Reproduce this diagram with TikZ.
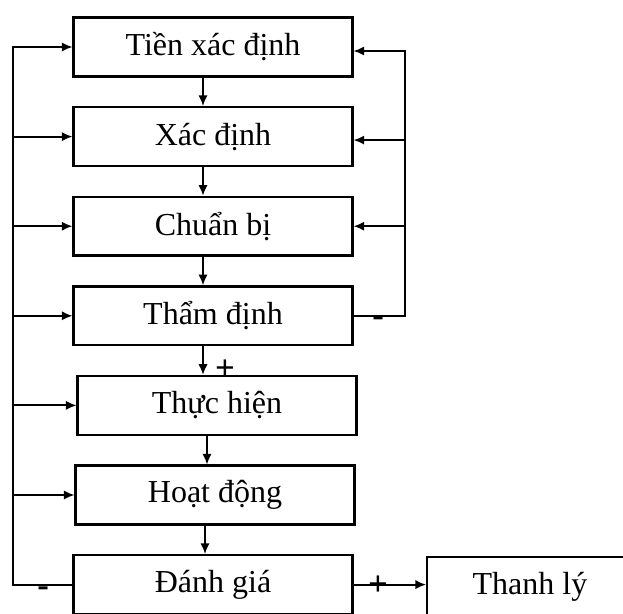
\documentclass[tikz,border=0pt]{standalone}
\usepackage{fontspec}
\setmainfont{Liberation Serif}
\usetikzlibrary{arrows.meta,positioning}
\tikzstyle{stage} = [draw,line width=1.8pt,rectangle,inner sep=0,minimum width=209pt,minimum height=44pt,font=\fontsize{24}{28}\selectfont]
\tikzstyle{link} = [line width=1.4pt]
\tikzstyle{flow} = [line width=1.4pt,-{Latex[length=8pt,width=7pt]}]
\tikzstyle{sign} = [inner sep=0,font=\fontsize{26}{26}\bfseries\selectfont]
\def \gap {21.4pt}
\def \off {-7.5pt}

\begin{document}
\begin{tikzpicture}[auto, node distance=\gap]
      \useasboundingbox (0,0) rectangle (467.25pt,-459.75pt);
      \node[stage] (tien) at (159.75pt,-35.25pt) {Tiền xác định};
      \node[stage,below=of tien] (xacdinh) {Xác định};
      \node[stage,below=of xacdinh] (chuanbi) {Chuẩn bị};
      \node[stage,below=of chuanbi] (thamdinh) {Thẩm định};
      \node[stage,below=of thamdinh,xshift=3pt] (thuchien) {Thực hiện};
      \node[stage,below=of thuchien,xshift=-1.5pt] (hoatdong) {Hoạt động};
      \node[stage,below=of hoatdong,xshift=-1.5pt] (danhgia) {Đánh giá};
      \node[stage,minimum width=154pt,right=54.4pt of danhgia,yshift=-1.5pt] (thanhly) {Thanh lý};
      \coordinate (lx) at (9.75pt,0);
      \coordinate (rx) at (303.75pt,0);
      \coordinate (tienin) at ([yshift=-3pt]tien.east);
      \coordinate (xacin) at ([yshift=-2.6pt]xacdinh.east);
      % main line, top to bottom
      \foreach \a in {tien,xacdinh,chuanbi,thamdinh,thuchien,hoatdong}
        \draw[flow] ([xshift=\off]\a.south) -- ++(0,-\gap);
      \draw[flow] (danhgia.east) -- (thanhly.west |- danhgia.east);
      % loop back on the left
      \draw[flow] (danhgia.west) -- (lx |- danhgia.west) -- (lx |- tien.west) -- (tien.west);
      \foreach \a in {xacdinh,chuanbi,thamdinh,thuchien,hoatdong}
        \draw[flow] (lx |- \a.west) -- (\a.west);
      % loop back on the right
      \draw[flow] (thamdinh.east) -- (rx |- thamdinh.east) -- (rx |- tienin) -- (tienin);
      \draw[flow] (rx |- xacin) -- (xacin);
      \draw[flow] (rx |- chuanbi.east) -- (chuanbi.east);
      % signs
      \node[sign] (pass) at ([xshift=6pt,yshift=4pt]thuchien.north) {+};
      \node[sign] (fail) at ([xshift=18.4pt,yshift=-4.5pt]thamdinh.east) {-};
      \node[sign] (redo) at ([xshift=-22pt,yshift=-5pt]danhgia.west) {-};
      \node[sign] (close) at ([xshift=18.4pt,yshift=-1pt]danhgia.east) {+};
    \end{tikzpicture}
\end{document}
